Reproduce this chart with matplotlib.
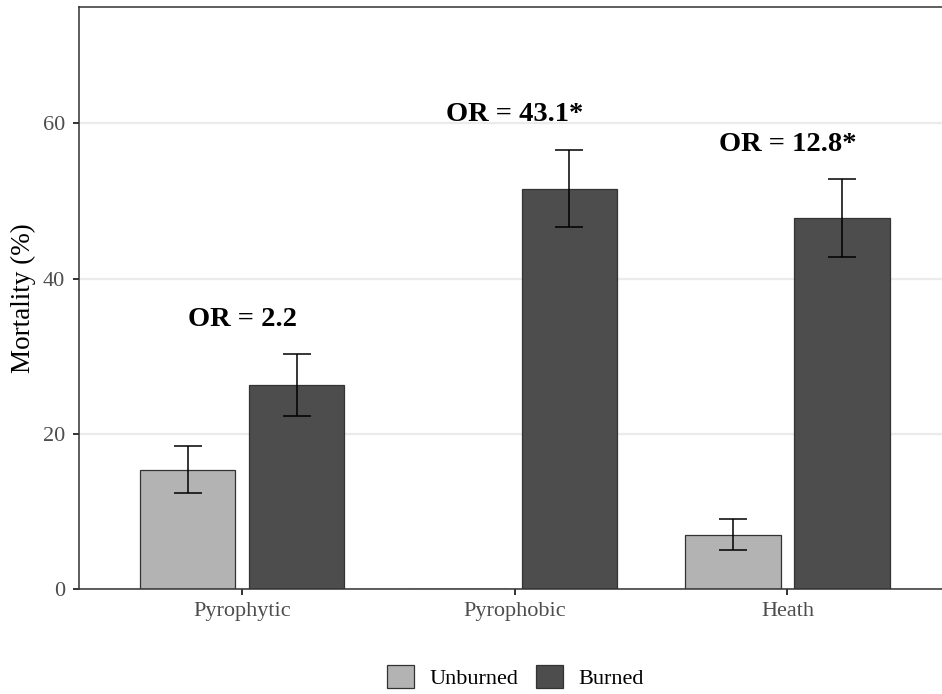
import numpy as np
import matplotlib
matplotlib.use("Agg")
import matplotlib.pyplot as plt
from matplotlib.patches import Patch

plt.rcParams['font.family'] = ['Liberation Serif', 'DejaVu Serif']

categories = ['Pyrophytic', 'Pyrophobic', 'Heath']
unburned = [15.4, 0.0, 7.0]
unburned_err = [3.0, np.nan, 2.0]
burned = [26.3, 51.6, 47.8]
burned_err = [4.0, 5.0, 5.0]
or_labels = ['OR = 2.2', 'OR = 43.1*', 'OR = 12.8*']
or_y = [33.9, 60.3, 56.4]

col_unburned = '#B3B3B3'
col_burned = '#4D4D4D'
edge = '#333333'

fig = plt.figure(figsize=(9.42, 6.94), dpi=100)
ax = fig.add_axes([78.7 / 942, (694 - 589.3) / 694, (951 - 78.7) / 942, (589.3 - 7) / 694])

x = np.arange(1, len(categories) + 1)
w = 0.35
ax.bar(x - 0.2, unburned, width=w, color=col_unburned, edgecolor=edge, linewidth=0.9, zorder=2)
ax.bar(x + 0.2, burned, width=w, color=col_burned, edgecolor=edge, linewidth=0.9, zorder=2)
ax.errorbar(x - 0.2, unburned, yerr=unburned_err, fmt='none', ecolor='black',
            elinewidth=1.1, capsize=9.8, capthick=1.1, zorder=3)
ax.errorbar(x + 0.2, burned, yerr=burned_err, fmt='none', ecolor='black',
            elinewidth=1.1, capsize=9.8, capthick=1.1, zorder=3)

# odds ratios above each habitat
for xi, lab, yi in zip(x, or_labels, or_y):
    ax.text(xi, yi, lab, ha='center', va='baseline', fontsize=20.5, fontweight='bold', color='black')

ax.set_xlim(0.4, 3.6)
ax.set_ylim(0, 75)
ax.set_xticks(x)
ax.set_xticklabels(categories)
ax.set_yticks([0, 20, 40, 60])
ax.yaxis.grid(True, color='#EBEBEB', linewidth=1.6, zorder=0)
ax.set_axisbelow(True)
ax.tick_params(axis='both', labelsize=16, labelcolor='#4D4D4D', color='#333333',
               length=4.2, width=1.4)
ax.tick_params(axis='y', pad=5.5)
ax.tick_params(axis='x', pad=5)
ax.set_ylabel('Mortality (%)', fontsize=19.5, color='black', labelpad=5)

for s in ax.spines.values():
    s.set_color('#333333')
    s.set_linewidth(1.1)

handles = [Patch(facecolor=col_unburned, edgecolor=edge, linewidth=0.9, label='Unburned'),
           Patch(facecolor=col_burned, edgecolor=edge, linewidth=0.9, label='Burned')]
fig.legend(handles=handles, loc='center', bbox_to_anchor=(0.547, 0.0245), ncol=2,
           frameon=False, fontsize=16, handlelength=1.2, handleheight=1.2,
           handletextpad=0.7, columnspacing=0.8)

fig.savefig('out.png', dpi=100)
